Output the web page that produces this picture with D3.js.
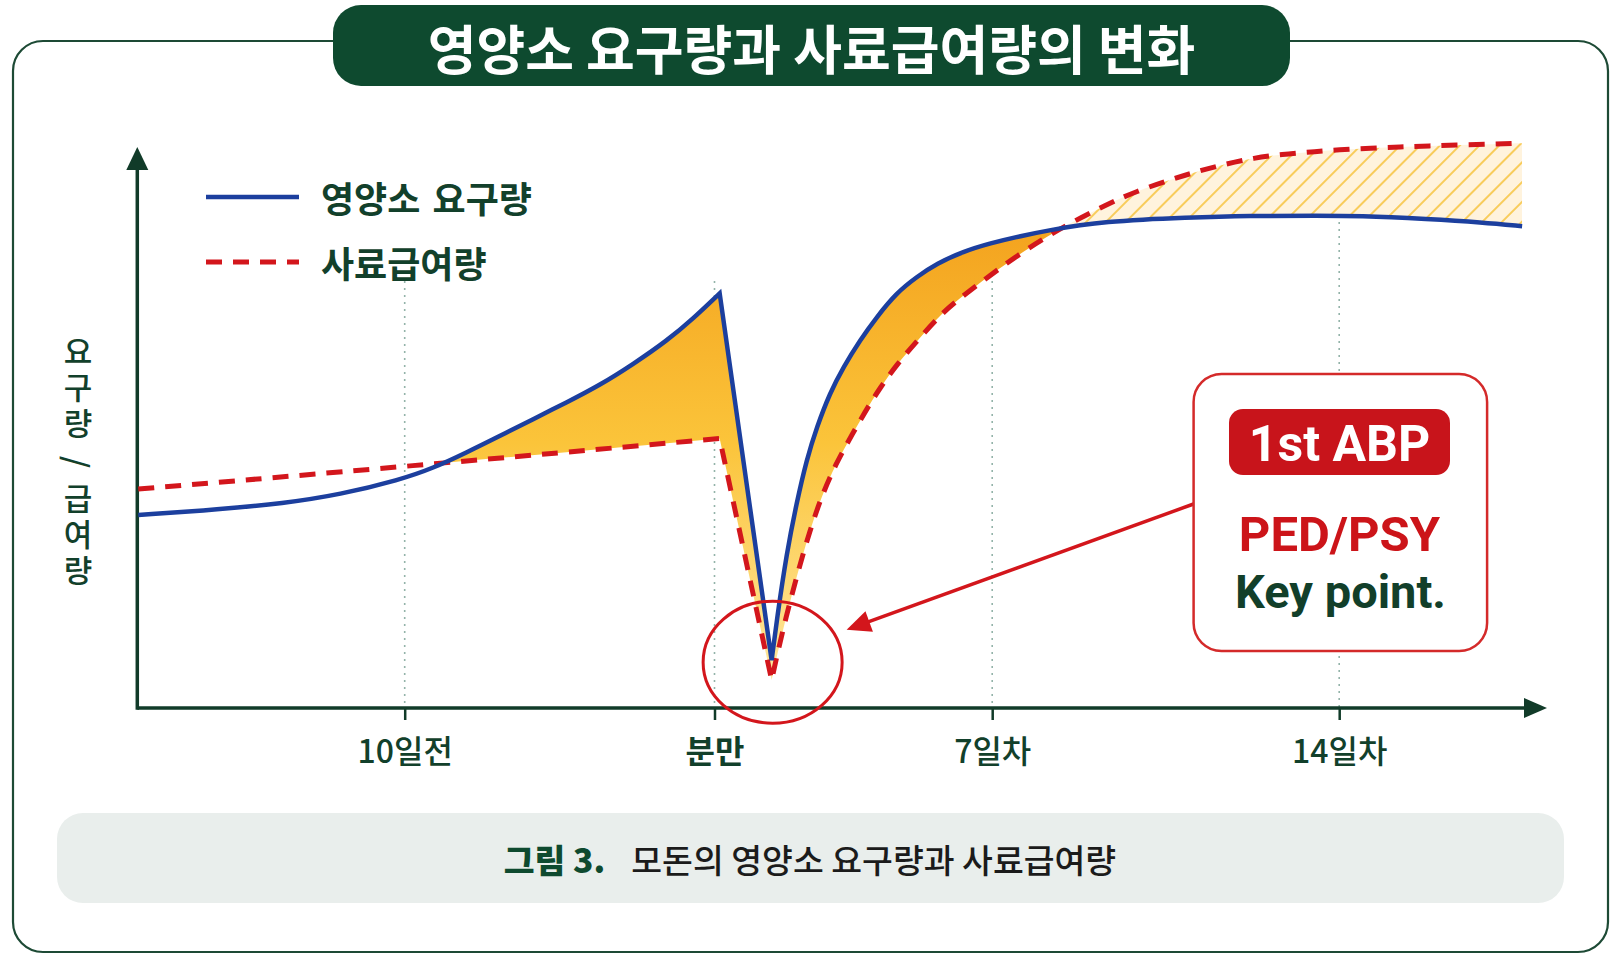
<!DOCTYPE html>
<html><head><meta charset="utf-8">
<script src="https://cdn.jsdelivr.net/npm/d3@7"></script>
<style>body{margin:0;background:#fff;} svg{display:block;}</style>
</head><body>
<svg id="chart" width="1619" height="972"></svg>
<script>
// ---------- data ----------
const titleText = "영양소 요구량과 사료급여량의 변화";
const legendLabels = ["영양소 요구량", "사료급여량"];
const yAxisParts = ["요구량", "/", "급여량"];
const tickDays = [-10, 0, 7, 14];
const tickLabels = ["10일전", "분만", "7일차", "14일차"];
const captionBold = "그림 3.";
const captionText = "모돈의 영양소 요구량과 사료급여량";
const calloutBadge = "1st ABP";
const calloutLine1 = "PED/PSY";
const calloutLine2 = "Key point.";

// demand (blue): before the peak, then after the minimum (straight drop in between)
const demandPreDays = [-18.6, -15.96, -13.93, -12.09, -10.15, -9.09, -7.99, -6.92, -5.86, -4.76, -3.70, -2.63, -1.53, -0.69, 0.13];
const demandPreVals = [35.1, 36.1, 37.2, 38.8, 41.5, 43.6, 46.5, 49.5, 52.5, 55.6, 58.7, 62.5, 66.8, 70.8, 75.4];
const demandPostDays = [1.44, 1.57, 1.82, 2.07, 2.32, 2.58, 2.91, 3.25, 3.67, 4.09, 4.59, 5.10, 5.60, 6.27, 6.95, 7.56, 8.23, 8.77, 9.32, 10.04, 10.77, 12.20, 13.63, 14.36, 15.81, 16.88, 17.69];
const demandPostVals = [8.7, 16.0, 28.2, 37.3, 45.1, 51.1, 57.3, 62.0, 66.9, 71.1, 75.5, 78.4, 80.8, 83.0, 84.5, 85.8, 87.0, 87.8, 88.4, 88.8, 89.1, 89.5, 89.5, 89.5, 88.9, 88.3, 87.6];

// supply (red dashed)
const supplyPreDays = [-18.6, -10, 0.13];
const supplyPreVals = [39.8, 43.9, 49.0];
const supplyPostDays = [1.44, 1.73, 2.08, 2.41, 2.71, 3.06, 3.42, 3.79, 4.17, 4.60, 5.10, 5.76, 6.19, 6.62, 7.10, 7.70, 8.49, 9.32, 9.92, 10.55, 11.11, 11.70, 12.28, 12.85, 13.43, 14.0, 14.64, 15.23, 15.81, 16.46, 17.10, 17.69];
const supplyPostVals = [5.1, 14.5, 24.2, 32.4, 38.7, 44.4, 49.1, 53.8, 58.2, 62.5, 66.7, 72.0, 74.5, 76.9, 79.6, 83.5, 87.8, 91.6, 94.0, 95.9, 97.5, 98.9, 100.0, 100.7, 101.1, 101.5, 101.8, 102.0, 102.2, 102.4, 102.5, 102.7];

// ---------- styles / layout ----------
const FONT = "'Noto Sans CJK KR','Noto Sans',sans-serif";
const LATIN = "Roboto,'Noto Sans',sans-serif";
const green = "#0e4a2f", axisColor = "#113b29", textGreen = "#12402b";
const blue = "#1c3f9e", red = "#d3161c";
const gridTop = [281, 281, 281, 222];

const svg = d3.select("#chart");
svg.append("rect").attr("width", 1619).attr("height", 972).attr("fill", "#ffffff");

const x = d3.scaleLinear().domain(tickDays).range([404.7, 714.5, 992.2, 1339.2]);
const y = d3.scaleLinear().domain([0, 100]).range([708, 158]);
const axisX = 137.3, axisY = y(0);

// frame
svg.append("rect").attr("x", 13).attr("y", 41).attr("width", 1595).attr("height", 911)
  .attr("rx", 30).attr("fill", "none").attr("stroke", "#1d4a35").attr("stroke-width", 2.2);

// title pill
svg.append("rect").attr("x", 333).attr("y", 5).attr("width", 957).attr("height", 81)
  .attr("rx", 28).attr("fill", green);
svg.append("text").attr("x", 811.5).attr("y", 47).attr("text-anchor", "middle")
  .attr("dominant-baseline", "central").attr("font-family", FONT).attr("font-weight", 700)
  .attr("font-size", 53).attr("fill", "#ffffff").text(titleText);

// defs
const defs = svg.append("defs");
const grad = defs.append("linearGradient").attr("id", "gapGrad").attr("gradientUnits", "userSpaceOnUse")
  .attr("x1", 0).attr("x2", 0).attr("y1", 240).attr("y2", 690);
grad.append("stop").attr("offset", 0).attr("stop-color", "#f4a520");
grad.append("stop").attr("offset", 0.45).attr("stop-color", "#fbc43a");
grad.append("stop").attr("offset", 1).attr("stop-color", "#ffe9a3");

const pat = defs.append("pattern").attr("id", "hatch").attr("patternUnits", "userSpaceOnUse")
  .attr("width", 14).attr("height", 14).attr("patternTransform", "rotate(45)");
pat.append("rect").attr("width", 14).attr("height", 14).attr("fill", "#fff3dd");
pat.append("line").attr("x1", 1).attr("y1", 0).attr("x2", 1).attr("y2", 14)
  .attr("stroke", "#f6c02f").attr("stroke-width", 1.5);

const line = d3.line().x(d => x(d[0])).y(d => y(d[1])).curve(d3.curveBasis);
function seriesPath(preD, preV, postD, postV) {
  return line(d3.zip(preD, preV)) + line(d3.zip(postD, postV)).replace(/^M/, "L");
}
const demandD = seriesPath(demandPreDays, demandPreVals, demandPostDays, demandPostVals);
const supplyD = seriesPath(supplyPreDays, supplyPreVals, supplyPostDays, supplyPostVals);
const xs = x(demandPreDays[0]), xe = x(demandPostDays[demandPostDays.length - 1]);
const yBase = axisY + 2, yTop = 100;
const closeBottom = `L${xe},${yBase}L${xs},${yBase}Z`;
const closeTop = `L${xe},${yTop}L${xs},${yTop}Z`;

defs.append("clipPath").attr("id", "belowDemand").append("path").attr("d", demandD + closeBottom);
defs.append("clipPath").attr("id", "aboveDemand").append("path").attr("d", demandD + closeTop);
defs.append("clipPath").attr("id", "lateOnly").append("rect")
  .attr("x", x(4)).attr("y", 0).attr("width", 1619).attr("height", 972);

// gridlines
svg.append("g").selectAll("line").data(tickDays).join("line")
  .attr("x1", d => x(d)).attr("x2", d => x(d))
  .attr("y1", (d, i) => gridTop[i]).attr("y2", axisY)
  .attr("stroke", "#93b3a9").attr("stroke-width", 1.6).attr("stroke-dasharray", "2 5");

// shortfall fill (demand above supply)
svg.append("g").attr("clip-path", "url(#belowDemand)")
  .append("path").attr("d", supplyD + closeTop).attr("fill", "url(#gapGrad)");

// surplus hatch (supply above demand, after recovery)
svg.append("g").attr("clip-path", "url(#lateOnly)")
  .append("g").attr("clip-path", "url(#aboveDemand)")
  .append("path").attr("d", supplyD + closeBottom).attr("fill", "url(#hatch)");

// x axis
const xAxis = d3.axisBottom(x).tickValues(tickDays).tickFormat((d, i) => tickLabels[i])
  .tickSize(12).tickPadding(20);
const gx = svg.append("g").attr("transform", `translate(0,${axisY})`).call(xAxis);
gx.select(".domain").remove();
gx.selectAll(".tick line").attr("stroke", axisColor).attr("stroke-width", 2.5);
gx.selectAll(".tick text").attr("font-family", FONT).attr("font-size", 32)
  .attr("font-weight", (d, i) => i === 1 ? 700 : 500).attr("fill", textGreen);

svg.append("line").attr("x1", axisX).attr("x2", 1528).attr("y1", axisY).attr("y2", axisY)
  .attr("stroke", axisColor).attr("stroke-width", 3.5);
svg.append("path").attr("d", `M1547,${axisY}L1524,${axisY - 10}L1524,${axisY + 10}Z`).attr("fill", axisColor);
svg.append("line").attr("x1", axisX).attr("x2", axisX).attr("y1", axisY + 1.7).attr("y2", 166)
  .attr("stroke", axisColor).attr("stroke-width", 3.5);
svg.append("path").attr("d", `M${axisX},147L${axisX - 11},170L${axisX + 11},170Z`).attr("fill", axisColor);

// y-axis label: vertical writing, slash turned sideways
const fsY = 31, cxY = 78;
function vText(str, top) {
  svg.append("text").attr("x", cxY).attr("y", top).style("writing-mode", "vertical-rl")
    .attr("font-family", FONT).attr("font-size", fsY).attr("font-weight", 500)
    .attr("letter-spacing", 5).attr("fill", textGreen).text(str);
}
vText(yAxisParts[0], 335.5);
svg.append("text").attr("x", cxY).attr("y", 462).attr("text-anchor", "middle")
  .attr("dominant-baseline", "central").attr("transform", `rotate(90,${cxY},462)`)
  .attr("font-family", FONT).attr("font-size", fsY).attr("font-weight", 500)
  .attr("fill", textGreen).text(yAxisParts[1]);
vText(yAxisParts[2], 482.5);

// curves
svg.append("path").attr("d", supplyD).attr("fill", "none").attr("stroke", red)
  .attr("stroke-width", 5).attr("stroke-dasharray", "16 11").attr("stroke-linejoin", "miter").attr("stroke-miterlimit", 4);
svg.append("path").attr("d", demandD).attr("fill", "none").attr("stroke", blue)
  .attr("stroke-width", 4.5).attr("stroke-linejoin", "miter").attr("stroke-miterlimit", 4);

// legend
svg.append("line").attr("x1", 206).attr("x2", 299).attr("y1", 197).attr("y2", 197)
  .attr("stroke", blue).attr("stroke-width", 4.5);
svg.append("line").attr("x1", 206).attr("x2", 299).attr("y1", 262).attr("y2", 262)
  .attr("stroke", red).attr("stroke-width", 5).attr("stroke-dasharray", "16 11");
svg.append("g").selectAll("text").data(legendLabels).join("text")
  .attr("x", 321).attr("y", (d, i) => 197 + i * 65).attr("dominant-baseline", "central")
  .attr("font-family", FONT).attr("font-weight", 700).attr("font-size", 36)
  .attr("word-spacing", 4).attr("fill", textGreen).text(d => d);

// annotation: ellipse at the demand minimum and arrow from callout
const mx = x(demandPostDays[0]), my = y(demandPostVals[0]);
svg.append("ellipse").attr("cx", mx + 1).attr("cy", my + 2).attr("rx", 69.5).attr("ry", 61)
  .attr("fill", "none").attr("stroke", red).attr("stroke-width", 3);
const ax0 = 1193.6, ay0 = 504, ax1 = mx + 75, ay1 = my - 30.5;
const ang = Math.atan2(ay1 - ay0, ax1 - ax0);
const hl = 24, hw = 11;
const bx = ax1 - hl * Math.cos(ang), by = ay1 - hl * Math.sin(ang);
svg.append("line").attr("x1", ax0).attr("y1", ay0).attr("x2", bx + 4 * Math.cos(ang)).attr("y2", by + 4 * Math.sin(ang))
  .attr("stroke", red).attr("stroke-width", 3.5);
svg.append("path").attr("d", `M${ax1},${ay1}L${bx - hw * Math.sin(ang)},${by + hw * Math.cos(ang)}L${bx + hw * Math.sin(ang)},${by - hw * Math.cos(ang)}Z`)
  .attr("fill", red);

// callout box
svg.append("rect").attr("x", 1193.6).attr("y", 374).attr("width", 293.5).attr("height", 277)
  .attr("rx", 28).attr("fill", "#ffffff").attr("stroke", "#d42a2a").attr("stroke-width", 2.5);
svg.append("rect").attr("x", 1229).attr("y", 409).attr("width", 221).attr("height", 66)
  .attr("rx", 14).attr("fill", "#c8141b");
svg.append("text").attr("x", 1339.5).attr("y", 461).attr("text-anchor", "middle")
  .attr("font-family", LATIN).attr("font-weight", 700).attr("font-size", 50).attr("fill", "#ffffff").text(calloutBadge);
svg.append("text").attr("x", 1339.5).attr("y", 551).attr("text-anchor", "middle")
  .attr("font-family", LATIN).attr("font-weight", 700).attr("font-size", 49).attr("fill", "#cc1419").text(calloutLine1);
svg.append("text").attr("x", 1340.5).attr("y", 608).attr("text-anchor", "middle")
  .attr("font-family", LATIN).attr("font-weight", 700).attr("font-size", 47).attr("fill", "#123f2a").text(calloutLine2);

// caption
svg.append("rect").attr("x", 57).attr("y", 813).attr("width", 1507).attr("height", 90)
  .attr("rx", 26).attr("fill", "#e9eeec");
const cap = svg.append("text").attr("x", 810).attr("y", 858).attr("text-anchor", "middle")
  .attr("dominant-baseline", "central").attr("font-family", FONT).attr("font-size", 33.5);
cap.append("tspan").attr("font-weight", 900).attr("fill", green).text(captionBold);
cap.append("tspan").attr("dx", 26).attr("font-weight", 500).attr("fill", "#1b1b1b").text(captionText);
</script>
</body></html>
